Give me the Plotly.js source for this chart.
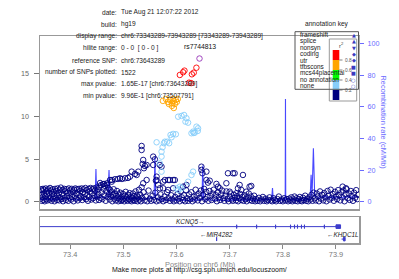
<!DOCTYPE html>
<html><head><meta charset="utf-8">
<script src="https://cdn.plot.ly/plotly-3.0.1.min.js"></script>
<style>html,body{margin:0;padding:0;background:#fff}#plot{width:399px;height:279px}</style>
</head><body><div id="plot"></div>
<script>
// ---------------- data ----------------
const refPos=[73.6433], refP=[16.78];
const redPos=[73.6063,73.6125,73.6150,73.6290,73.6325,73.6375,73.6237,73.6275];
const redP  =[14.85,15.17,15.36,14.93,15.12,15.70,13.95,13.90];
const orangePos=[73.5744,73.5800,73.5838,73.5875,73.5913,73.5931,73.5950,73.5969,73.5988,73.5913,73.5950,73.5856,73.6006,73.6025];
const orangeP  =[11.81,12.04,11.69,11.92,11.57,12.04,11.81,11.45,11.92,11.22,10.98,11.45,11.69,12.04];
const lbluePos=[73.6031,73.6094,73.6143,73.6188,73.6169,73.6218,73.6376,73.6406,73.6312,73.6282,73.6344,73.5888,73.5937,73.5988,73.5907,73.5781,73.5824,73.5862,73.5763,73.5626,73.5738,73.5719,73.5719,73.5688,73.5719,73.6312,73.6282,73.6063,73.6031,73.6218,73.6001,73.6094,73.6400,73.6325];
const lblueP  =[9.96,10.05,10.16,9.78,9.38,9.26,8.79,8.60,8.21,8.02,8.09,7.82,7.94,7.90,7.55,7.03,7.03,6.85,6.85,6.96,6.38,5.86,5.28,4.50,3.52,3.52,3.13,1.76,1.37,2.34,1.57,1.57,8.29,8.05];
const navyHiPos=[73.5344,73.5344,73.5374,73.5363,73.5406,73.5438,73.5388,73.5562,73.5594,
 73.4844,73.4938,73.5031,73.5125,73.5219,73.5281,73.5157,73.5251,73.4788,73.4900,73.4975,73.5088,73.4750,73.4782,
 73.5374,73.5344,73.5438,73.5626,73.5656,73.5688,73.5749,73.5843,73.5937,73.5562,73.5688,73.5719,73.5626,73.5613,
 73.5781,73.5875,73.5969,73.5749,73.5843,73.5937,73.6125,73.6188,73.6469,73.6469,73.6488,73.6563,73.6625,73.6593,
 73.6563,73.6751,73.6813,73.6968,73.7062,73.7094,73.7250,73.7156,73.7220,73.7375,73.7313,73.7000,73.7126,73.6781,
 73.6938,73.7188,73.7407,73.9125,73.9188,73.4563,73.4638,73.4694];
const navyHiP=[6.53,6.06,4.89,4.42,4.19,4.30,3.92,5.28,4.97,
 2.63,2.74,2.74,2.93,3.25,3.52,3.52,3.13,2.54,2.66,2.66,2.78,2.54,2.34,
 2.16,1.69,2.54,2.54,1.96,1.57,2.34,2.54,2.54,4.30,4.30,4.10,2.93,2.46,
 2.54,2.54,2.54,1.57,1.37,1.57,1.76,1.96,4.10,3.72,3.33,2.54,2.46,2.23,
 3.52,2.08,1.57,3.33,3.33,3.33,3.13,1.57,1.37,1.76,1.17,1.17,0.98,1.76,
 2.16,1.96,1.84,1.76,1.57,2.19,2.08,1.96];
const navyLowPos=[
 73.3445,73.3452,73.3458,73.3466,73.3473,73.3481,73.3490,73.3497,73.3505,73.3514,73.3522,73.3530,73.3541,73.3549,73.3558,73.3566,73.3575,73.3586,73.3594,73.3603,
 73.3612,73.3621,73.3630,73.3641,73.3650,73.3659,73.3668,73.3677,73.3688,73.3697,73.3706,73.3717,73.3726,73.3735,73.3746,73.3755,73.3765,73.3774,73.3785,73.3794,
 73.3805,73.3815,73.3825,73.3835,73.3846,73.3857,73.3866,73.3877,73.3888,73.3898,73.3909,73.3920,73.3931,73.3942,73.3953,73.3964,73.3975,73.3986,73.3997,73.4008,
 73.4019,73.4030,73.4041,73.4053,73.4064,73.4075,73.4087,73.4098,73.4110,73.4121,73.4133,73.4144,73.4156,73.4168,73.4179,73.4191,73.4203,73.4215,73.4227,73.4239,
 73.4251,73.4263,73.4275,73.4287,73.4299,73.4311,73.4323,73.4335,73.4347,73.4359,73.4372,73.4384,73.4396,73.4408,73.4420,73.4432,73.4445,73.4457,73.4469,73.4482,
 73.4494,73.4506,73.4519,73.4531,73.4544,73.4556,
 73.4569,73.4581,73.4594,73.4606,73.4619,73.4631,73.4644,73.4656,73.4669,73.4681,73.4694,73.4706,73.4719,73.4731,73.4744,73.4756,73.4769,73.4781,73.4794,73.4806,
 73.4819,73.4831,73.4844,73.4856,73.4869,73.4881,73.4894,73.4906,73.4919,73.4931,73.4944,73.4956,73.4969,73.4981,73.4994,73.5006,73.5019,73.5031,73.5044,73.5056,
 73.5069,73.5081,73.5094,73.5106,73.5119,73.5131,73.5144,73.5156,73.5169,73.5181,73.5194,73.5206,73.5219,73.5231,73.5244,73.5256,73.5269,73.5281,73.5294,
 73.5306,73.5319,73.5331,73.5356,73.5381,73.5400,73.5425,73.5450,73.5475,73.5500,73.5525,73.5550,73.5575,73.5600,73.5625,73.5650,73.5675,73.5700,73.5725,73.5750,
 73.5775,73.5800,73.5825,73.5850,73.5875,73.5900,73.5925,73.5950,73.5975,
 73.6000,73.6020,73.6040,73.6060,73.6080,73.6100,73.6120,73.6140,73.6160,73.6180,73.6200,73.6220,73.6240,73.6260,73.6280,73.6300,73.6320,73.6340,73.6360,73.6380,
 73.6400,73.6420,73.6440,73.6460,73.6480,73.6500,73.6520,73.6540,73.6560,73.6580,73.6600,73.6620,73.6640,73.6660,73.6680,73.6700,73.6720,73.6740,73.6760,73.6780,
 73.6800,73.6820,73.6840,73.6860,73.6880,73.6900,73.6920,73.6940,73.6960,73.6980,73.7000,73.7020,73.7040,73.7060,73.7080,73.7100,73.7120,73.7140,73.7160,73.7180,
 73.7200,73.7220,73.7240,73.7260,73.7280,73.7300,73.7320,73.7340,73.7360,73.7380,73.7400,73.7420,73.7440,73.7460,73.7480,
 73.7500,73.7525,73.7550,73.7575,73.7600,73.7625,73.7650,73.7675,73.7700,73.7725,73.7750,73.7775,73.7800,73.7825,73.7850,73.7875,73.7900,73.7925,73.7950,73.7975,
 73.8000,73.8025,73.8050,73.8075,
 73.8100,73.8120,73.8140,73.8160,73.8180,73.8200,73.8220,73.8240,73.8260,73.8280,73.8300,73.8320,73.8340,73.8360,73.8380,73.8400,73.8420,73.8440,73.8460,73.8480,
 73.8500,73.8520,73.8540,73.8560,73.8580,73.8600,73.8620,73.8640,73.8660,73.8680,73.8700,73.8720,73.8740,73.8760,73.8780,73.8800,73.8820,73.8840,73.8860,73.8880,
 73.8900,73.8920,73.8940,73.8960,73.8980,73.9000,73.9020,73.9040,73.9060,73.9080,73.9100,73.9120,73.9140,73.9160,73.9180,73.9200,73.9220,73.9240,73.9260,73.9280,
 73.9300,73.9320,73.9340,73.9360,73.9380,73.9400,73.9420];
const navyLowP=[
 0.35,1.45,0.80,0.10,1.30,0.55,1.50,0.20,0.95,1.40,0.05,0.65,1.55,0.30,1.20,0.85,0.15,1.45,0.60,1.05,
 0.25,1.60,0.45,1.30,0.10,0.90,1.45,0.35,1.15,0.70,0.05,1.50,0.40,1.25,0.80,0.20,1.55,0.60,1.00,0.15,
 1.40,0.50,1.65,0.30,0.95,1.35,0.05,0.75,1.50,0.40,1.20,0.20,1.45,0.65,1.05,0.10,1.55,0.45,1.30,0.85,
 0.25,1.50,0.55,1.20,0.05,1.40,0.70,1.55,0.35,1.00,1.45,0.15,0.80,1.50,0.40,1.25,0.60,1.55,0.20,1.10,
 1.45,0.50,0.90,1.60,0.30,1.35,0.75,0.10,1.50,0.55,1.20,1.60,0.25,0.95,1.45,0.40,1.55,0.70,1.30,0.15,
 1.65,0.60,1.40,0.90,0.20,1.75,
 0.45,1.95,1.10,0.30,2.05,1.50,0.75,1.85,0.10,1.20,2.15,0.55,1.60,0.90,0.25,1.35,0.60,1.10,0.05,0.80,
 1.45,0.35,0.95,0.15,0.70,1.25,0.40,0.05,0.85,0.30,1.05,0.10,0.55,0.20,0.90,0.35,0.05,0.70,1.15,0.25,
 0.50,0.10,0.80,0.30,1.00,0.15,0.60,0.05,0.40,0.95,0.20,0.65,0.10,1.20,0.35,0.75,0.05,0.50,1.40,
 0.25,0.80,0.05,0.45,1.10,0.15,0.60,0.05,1.30,0.35,0.10,0.70,0.20,1.05,0.05,0.50,0.15,0.85,0.30,0.05,
 0.60,0.20,1.10,0.40,0.10,0.75,0.25,0.05,0.55,
 0.15,0.90,0.35,0.05,1.20,0.50,0.20,0.75,0.05,1.35,0.40,0.10,0.85,0.30,1.10,0.05,0.60,0.25,1.40,0.70,
 0.15,0.95,0.45,1.30,0.05,0.80,1.50,0.30,1.15,0.55,0.10,1.25,0.65,0.20,0.95,1.40,0.35,0.75,0.05,1.10,
 0.50,0.20,0.85,1.30,0.40,0.10,0.70,1.20,0.30,0.05,0.60,0.95,0.25,0.10,0.80,0.45,0.15,0.65,0.05,0.40,
 0.90,0.20,0.55,0.10,0.75,0.30,0.05,0.50,0.95,0.20,0.60,0.10,0.35,0.70,0.05,
 0.30,0.10,0.45,0.05,0.25,0.55,0.10,0.35,0.05,0.20,0.50,0.15,0.05,0.40,0.20,0.05,0.30,0.60,0.10,0.25,
 0.05,0.40,0.15,0.30,
 0.05,0.35,0.15,0.50,0.05,0.25,0.60,0.10,0.40,0.05,0.30,0.55,0.15,0.05,0.45,0.20,0.70,0.10,0.35,0.05,
 0.50,0.25,0.80,0.10,1.05,0.40,0.15,0.95,0.60,0.05,1.20,0.35,0.80,0.15,1.00,0.50,0.05,1.25,0.70,0.25,
 1.40,0.45,0.90,0.10,1.15,0.60,0.30,1.35,0.75,0.15,1.10,0.50,1.30,0.05,0.85,1.45,0.40,0.95,0.20,1.25,
 0.65,0.10,1.05,0.45,1.35,0.30,0.80];
const recombPos=[73.3433,73.350,73.360,73.370,73.380,73.390,73.400,73.410,73.420,73.430,73.440,73.447,73.4485,73.450,73.460,73.471,73.4731,73.475,73.480,73.490,
 73.500,73.510,73.520,73.530,73.540,73.550,73.558,73.5594,73.561,73.570,73.580,73.590,73.600,73.610,73.620,73.630,73.640,73.648,73.6494,73.651,
 73.660,73.670,73.680,73.690,73.700,73.710,73.720,73.730,73.740,73.750,73.760,73.770,73.779,73.7806,73.782,73.790,73.800,73.8045,73.805,73.8055,
 73.810,73.820,73.830,73.840,73.850,73.8515,73.8532,73.855,73.8575,73.860,73.865,73.870,73.880,73.890,73.900,73.910,73.920,73.930,73.9433];
const recombRate=[1.5,1.2,1.8,1.0,1.4,2.0,1.6,1.1,1.9,1.3,1.7,2.0,20.7,2.5,2.8,3.2,20.0,2.6,2.4,2.2,
 1.9,2.0,2.3,1.8,1.6,2.5,3.0,28.5,2.0,1.2,1.0,0.9,1.1,1.0,0.8,1.2,1.0,1.5,23.0,1.3,
 1.0,0.9,1.1,0.8,1.0,1.2,0.9,1.1,1.0,0.8,1.0,1.1,1.5,8.7,1.3,1.0,1.2,2.0,65.0,2.0,
 1.5,1.0,1.2,1.0,1.4,3.0,17.0,4.0,33.8,3.5,3.0,2.8,3.2,2.6,3.0,2.7,3.1,2.9,3.0];
const geneName=['KCNQ5','MIR4282','KHDC1L'];
const geneStart=[73.3316,73.6752,73.9105];
const geneEnd=[73.9086,73.6757,73.9172];
const geneStrand=['+','-','-'];
const geneRow=[0,1,1];
const exonGene=[0,0,0,0,0,0,0,0,0,0,1,2];
const exonStart=[73.7131,73.7506,73.7863,73.8144,73.8219,73.8275,73.8350,73.8406,73.8781,73.9000,73.6754,73.9140];
const exonEnd  =[73.7133,73.7508,73.7865,73.8146,73.8221,73.8277,73.8352,73.8408,73.8783,73.9086,73.6756,73.9172];
const xTicks=[73.4,73.5,73.6,73.7,73.8,73.9];
const pTicks=[0,5,10,15];
const rTicks=[0,20,40,60,80,100];
const infoLabels=['date:','build:','display range:','hilite range:','reference SNP:','number of SNPs plotted:','max pvalue:','min pvalue:'];
const infoValues=['Tue Aug 21 12:07:22 2012','hg19','chr6:73343289-73943289 [73343289-73943289]','0 - 0  [ 0 - 0 ]','chr6:73643289','1522','1.65E-17 [chr6:73643289]','9.96E-1 [chr6:73507791]'];
const annotKeys=['frameshift','splice','nonsyn','coding','utr','tfbscons','mcs44placental','no annotation','none'];
const annotSyms=['▲','▲','▼','◆','◆','■','■','○','○'];
const r2Colors=['#FF0000','#FFA500','#00FF00','#87CEFA','#000080'];
const r2Labels=['0.8','0.6','0.4','0.2'];

// ---------------- layout helpers ----------------
const L=40,R=359,T=36,B=243;
const px=p=>(p-L)/(R-L), py=p=>(B-p)/(B-T);
const FONT='"Liberation Sans", Arial, sans-serif';
const xRange=[73.343289,73.943289];
const rowY=[0.63,0.15];

const pt=(x,y,c,n)=>({type:'scatter',mode:'markers',x:x,y:y,xaxis:'x',yaxis:'y3',name:n,
  marker:{symbol:'circle-open',size:5.5,color:c,line:{width:0.9,color:c}},cliponaxis:true,hoverinfo:'skip'});

const traces=[
 {type:'scatter',mode:'lines',x:recombPos,y:recombRate,xaxis:'x',yaxis:'y',line:{color:'rgba(40,40,255,0.85)',width:1.1},hoverinfo:'skip'},
 pt(navyLowPos.concat(navyHiPos),navyLowP.concat(navyHiP),'#000080','n'),
 pt(lbluePos,lblueP,'#87CEFA','lb'),
 pt(orangePos,orangeP,'#FFA500','o'),
 pt(redPos,redP,'#FF0000','r'),
 pt(refPos,refP,'#9632B8','ref')
];
// gene lines
const gx=[],gy=[];
geneName.forEach((g,i)=>{gx.push(geneStart[i],geneEnd[i],null);gy.push(rowY[geneRow[i]],rowY[geneRow[i]],null);});
traces.push({type:'scatter',mode:'lines',x:gx,y:gy,xaxis:'x2',yaxis:'y2',line:{color:'#3d3dcc',width:1},hoverinfo:'skip'});

const shapes=[];
exonStart.forEach((s,i)=>{const yy=rowY[geneRow[exonGene[i]]];
 shapes.push({type:'rect',xref:'x2',yref:'y2',x0:s,x1:exonEnd[i],y0:yy-0.07,y1:yy+0.07,line:{color:'#3d3dcc',width:1},fillcolor:'#3d3dcc'});});
// r2 box (under the annotation key box)
shapes.push({type:'rect',xref:'paper',yref:'paper',x0:px(329.3),x1:px(356.7),y0:py(39),y1:py(101),line:{color:'#999',width:1},fillcolor:'#fff',layer:'above'});
r2Colors.forEach((c,i)=>{shapes.push({type:'rect',xref:'paper',yref:'paper',x0:px(332.7),x1:px(339.3),y0:py(50+10*i),y1:py(60+10*i),line:{width:0},fillcolor:c,layer:'above'});});
r2Labels.forEach((l,i)=>{shapes.push({type:'line',xref:'paper',yref:'paper',x0:px(339.3),x1:px(342.5),y0:py(60+10*i),y1:py(60+10*i),line:{color:'#666',width:0.8},layer:'above'});});
// annotation key box
shapes.push({type:'rect',xref:'paper',yref:'paper',x0:px(295),x1:px(358.5),y0:py(31.7),y1:py(89.3),line:{color:'#555',width:1},fillcolor:'rgba(0,0,0,0)',layer:'above'});

const ann=[];
const A=(t,x,y,o)=>ann.push(Object.assign({text:t,x:px(x),y:py(y),xref:'paper',yref:'paper',showarrow:false,xanchor:'center',yanchor:'middle',font:{family:FONT,size:6.6,color:'#222'},borderpad:0},o||{}));
infoLabels.forEach((l,i)=>{const yy=12.2+11.98*i; A(l,118,yy,{xanchor:'right'}); A(infoValues[i],119.5,yy,{xanchor:'left'});});
A('rs7744813',182.5,46.7,{xanchor:'left',font:{family:FONT,size:6.8,color:'#111'}});
A('annotation key',327,24.5,{font:{family:FONT,size:6.6,color:'#222'}});
annotKeys.forEach((k,i)=>{const yy=35+6.36*i; A(k,298.5,yy,{xanchor:'left',font:{family:FONT,size:6.4,color:'#222'}}); A(annotSyms[i],353.5,yy,{font:{family:'DejaVu Sans',size:5,color:'#3a3ac0'}});});
A('r<sup>2</sup>',341.7,45,{font:{family:FONT,size:6,color:'#444'}});
r2Labels.forEach((l,i)=>A(l,348,60.3+10*i,{font:{family:FONT,size:4.8,color:'#555'}}));
A('Recombination rate (cM/Mb)',382.5,122,{textangle:90,font:{family:FONT,size:7.4,color:'#6b6bff'}});
A('Position on chr6 (Mb)',200,264,{font:{family:FONT,size:7.4,color:'#888'}});
A('Make more plots at http://csg.sph.umich.edu/locuszoom/',200,269.5,{font:{family:FONT,size:7,color:'#111'}});
geneName.forEach((g,i)=>{
 const c=(Math.max(geneStart[i],xRange[0])+Math.min(geneEnd[i],xRange[1]))/2;
 const t=geneStrand[i]==='+'?'<i>'+g+'</i>→':'←<i>'+g+'</i>';
 ann.push({text:t,x:c,y:rowY[geneRow[i]]+0.17,xref:'x2',yref:'y2',showarrow:false,xanchor:'center',yanchor:'middle',font:{family:FONT,size:6.4,color:'#222'},borderpad:0});
});

const layout={
 width:399,height:279,margin:{l:L,r:399-R,t:T,b:279-B,pad:0,autoexpand:false},
 paper_bgcolor:'#fff',plot_bgcolor:'rgba(0,0,0,0)',showlegend:false,
 xaxis:{domain:[0,1],range:xRange,anchor:'y',showticklabels:false,ticks:'',showgrid:false,zeroline:false,showline:true,mirror:true,linecolor:'#999',linewidth:1.5},
 yaxis:{domain:[py(209),1],range:[-4.6,104.9],side:'right',anchor:'x',tickvals:rTicks,ticks:'outside',ticklen:4,tickcolor:'#6b6bff',
   tickfont:{family:FONT,size:7.2,color:'#6b6bff'},showgrid:false,zeroline:false,showline:true,linecolor:'#aaa',linewidth:1,ticklabelstandoff:2},
 yaxis3:{overlaying:'y',side:'left',anchor:'x',range:[-0.86,19.42],tickvals:pTicks,ticks:'outside',ticklen:5,tickcolor:'#777',
   tickfont:{family:FONT,size:7.2,color:'#666'},showgrid:false,zeroline:false,showline:true,linecolor:'#999',linewidth:1.5,ticklabelstandoff:3},
 xaxis2:{domain:[0,1],range:xRange,anchor:'y2',tickvals:xTicks,ticktext:xTicks.map(v=>v.toFixed(1)),ticks:'outside',ticklen:4,tickcolor:'#888',
   tickfont:{family:FONT,size:7.4,color:'#777'},showgrid:false,zeroline:false,showline:true,mirror:true,linecolor:'#999',linewidth:1.5},
 yaxis2:{domain:[0,py(217)],range:[0,1],anchor:'x2',showticklabels:false,ticks:'',showgrid:false,zeroline:false,showline:true,mirror:true,linecolor:'#999',linewidth:1.5},
 shapes:shapes,annotations:ann
};
Plotly.newPlot('plot',traces,layout,{staticPlot:true,displayModeBar:false});
</script></body></html>
